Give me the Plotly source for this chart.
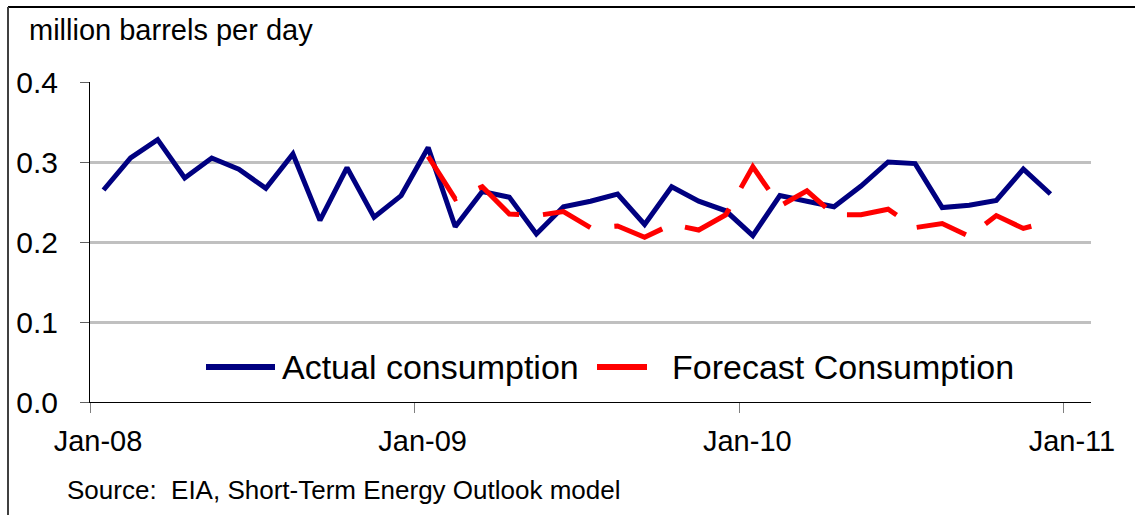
import plotly.graph_objects as go

# ---- data ----
tick_labels = ["Jan-08", "Jan-09", "Jan-10", "Jan-11"]
actual_months = [
    "2008-01", "2008-02", "2008-03", "2008-04", "2008-05", "2008-06",
    "2008-07", "2008-08", "2008-09", "2008-10", "2008-11", "2008-12",
    "2009-01", "2009-02", "2009-03", "2009-04", "2009-05", "2009-06",
    "2009-07", "2009-08", "2009-09", "2009-10", "2009-11", "2009-12",
    "2010-01", "2010-02", "2010-03", "2010-04", "2010-05", "2010-06",
    "2010-07", "2010-08", "2010-09", "2010-10", "2010-11", "2010-12",
]
actual_consumption = [
    0.265, 0.305, 0.328, 0.280, 0.305, 0.291, 0.267, 0.310, 0.227, 0.293, 0.231, 0.258,
    0.318, 0.219, 0.263, 0.256, 0.210, 0.244, 0.251, 0.260, 0.222, 0.269, 0.251, 0.239,
    0.208, 0.258, 0.251, 0.244, 0.270, 0.300, 0.298, 0.243, 0.246, 0.252, 0.291, 0.260,
]
forecast_months = actual_months[12:]
forecast_consumption = [
    0.307, 0.254, 0.269, 0.235, 0.233, 0.238, 0.218, 0.220, 0.206, 0.222, 0.215, 0.234,
    0.294, 0.245, 0.264, 0.234, 0.234, 0.241, 0.218, 0.223, 0.207, 0.233, 0.217, 0.226,
]


def month_pos(m):
    y, mo = m.split("-")
    return (int(y) - 2008) * 12 + (int(mo) - 1) + 0.5


FONT = "Arial, Liberation Sans, Helvetica, sans-serif"
NAVY = "#000080"
RED = "#ff0000"

fig = go.Figure()
fig.add_trace(go.Scatter(
    x=[month_pos(m) for m in actual_months], y=actual_consumption,
    mode="lines", name="Actual consumption",
    line=dict(color=NAVY, width=5), showlegend=False,
))
fig.add_trace(go.Scatter(
    x=[month_pos(m) for m in forecast_months], y=forecast_consumption,
    mode="lines", name="Forecast Consumption",
    line=dict(color=RED, width=5, dash="52px,24px"), showlegend=False,
))

W, H = 1135, 515
L, R, T, B = 90, 1091, 82, 402


def px(x):
    return (x - L) / (R - L)


def py(y):
    return (B - y) / (B - T)


fig.update_layout(
    width=W, height=H,
    margin=dict(l=L, r=W - R, t=T, b=H - B, pad=0),
    paper_bgcolor="white", plot_bgcolor="white",
    font=dict(family=FONT, color="black"),
    xaxis=dict(
        range=[0, 37], tickmode="array", tickvals=[0, 12, 24, 36], ticktext=tick_labels,
        showgrid=False, zeroline=False, showline=True, linecolor="black", linewidth=1,
        ticks="outside", ticklen=10, tickcolor="#808080", tickwidth=1,
        tickfont=dict(size=29, family=FONT, color="black"), ticklabelstandoff=3,
        ticklabelshift=8,
    ),
    yaxis=dict(
        range=[0, 0.4], tickmode="array", tickvals=[0, 0.1, 0.2, 0.3, 0.4],
        ticktext=["0.0", "0.1", "0.2", "0.3", "0.4"],
        showgrid=True, gridcolor="#c0c0c0", gridwidth=3, zeroline=False,
        showline=True, linecolor="black", linewidth=1,
        ticks="outside", ticklen=9, tickcolor="#606060", tickwidth=1,
        tickfont=dict(size=30, family=FONT, color="black"), ticklabelstandoff=16,
    ),
)

shapes = [
    # frame
    dict(type="line", xref="paper", yref="paper", x0=px(8), x1=px(1135), y0=py(7), y1=py(7),
         line=dict(color="black", width=2)),
    dict(type="line", xref="paper", yref="paper", x0=px(8), x1=px(8), y0=py(7), y1=py(515),
         line=dict(color="#404040", width=2)),
    # legend samples
    dict(type="line", xref="paper", yref="paper", x0=px(206), x1=px(275), y0=py(367), y1=py(367),
         line=dict(color=NAVY, width=6)),
    dict(type="line", xref="paper", yref="paper", x0=px(597), x1=px(647), y0=py(367), y1=py(367),
         line=dict(color=RED, width=6)),
]
fig.update_layout(shapes=shapes)

annotations = [
    dict(text="million barrels per day", x=px(27), y=py(30), xref="paper", yref="paper",
         xanchor="left", yanchor="middle", showarrow=False, font=dict(size=29, family=FONT)),
    dict(text="Source:  EIA, Short-Term Energy Outlook model", x=px(65), y=py(490),
         xref="paper", yref="paper", xanchor="left", yanchor="middle", showarrow=False,
         font=dict(size=26, family=FONT)),
    dict(text="Actual consumption", x=px(280), y=py(367), xref="paper", yref="paper",
         xanchor="left", yanchor="middle", showarrow=False, font=dict(size=34, family=FONT)),
    dict(text="Forecast Consumption", x=px(670), y=py(367), xref="paper", yref="paper",
         xanchor="left", yanchor="middle", showarrow=False, font=dict(size=34, family=FONT)),
]
fig.update_layout(annotations=annotations)

fig.write_html("out.html")
